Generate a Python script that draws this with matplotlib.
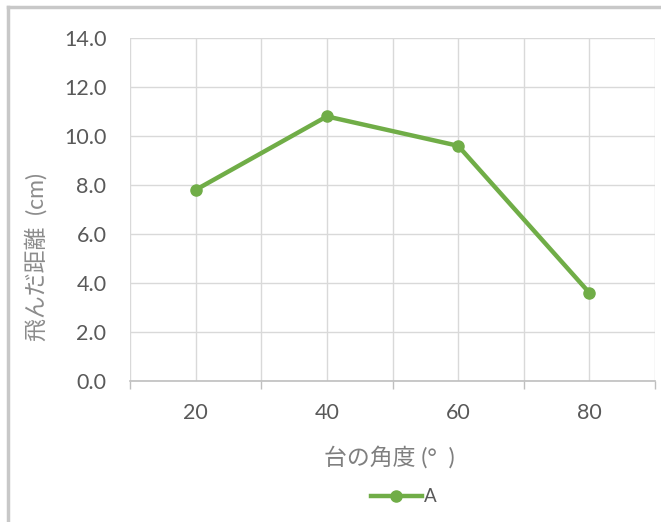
import matplotlib.pyplot as plt
from matplotlib.lines import Line2D

plt.rcParams['font.family'] = ['Lato', 'Noto Sans CJK JP', 'DejaVu Sans']

angles = ["20", "40", "60", "80"]
distance_A = [7.8, 10.8, 9.6, 3.6]

green = "#70AD47"
grid_col = "#D9D9D9"
text_col = "#595959"

fig = plt.figure(figsize=(6.61, 5.22), dpi=100)
ax = fig.add_axes([130 / 661, 141 / 522, 525 / 661, 343 / 522])

x = list(range(len(angles)))
ax.plot(x, distance_A, color=green, lw=3.2, marker="o", ms=8,
        solid_capstyle="round", zorder=3)

ax.set_xlim(-0.5, len(angles) - 0.5)
ax.set_ylim(0, 14)
ax.set_yticks([i * 2 for i in range(8)])
ax.set_yticklabels([f"{i * 2:.1f}" for i in range(8)])
ax.set_xticks(x)
ax.set_xticklabels(angles)
# tick marks sit on the category boundaries
ax.set_xticks([i - 0.5 for i in range(len(angles) + 1)], minor=True)

ax.tick_params(axis="x", which="major", length=0, pad=16, labelsize=15.5,
               labelcolor=text_col)
ax.tick_params(axis="x", which="minor", length=6, color="#BFBFBF", width=1)
ax.tick_params(axis="y", length=0, pad=17, labelsize=15.5, labelcolor=text_col)

ax.grid(True, axis="y", color=grid_col, lw=1)
ax.grid(True, axis="x", which="both", color=grid_col, lw=1)
ax.set_axisbelow(True)

for s in ["top", "right", "left"]:
    ax.spines[s].set_visible(False)
ax.spines["bottom"].set_color("#BFBFBF")
ax.spines["bottom"].set_linewidth(1.2)

fig.text(389 / 661, 1 - 457 / 522, "台の角度 (°  )", ha="center", va="center",
         fontsize=16.5, color="#7F7F7F")
fig.text(36 / 661, 1 - 257 / 522, "飛んだ距離  (cm)", ha="center", va="center",
         rotation=90, fontsize=16.5, color="#8C8C8C")

handle = Line2D([], [], color=green, lw=3.2, marker="o", ms=8)
fig.legend([handle], ["A"], loc="center", bbox_to_anchor=(404 / 661, 1 - 497 / 522),
           frameon=False, fontsize=13.5, handlelength=2.7, handletextpad=0.15,
           labelcolor=text_col)

# outer chart frame
fig.add_artist(Line2D([8 / 661, 8 / 661], [0, 1 - 7 / 522], color="#C8C8C8", lw=2.5,
                      transform=fig.transFigure))
fig.add_artist(Line2D([8 / 661, 1], [1 - 7 / 522, 1 - 7 / 522], color="#C8C8C8", lw=2.5,
                      transform=fig.transFigure))

fig.savefig("out.png", dpi=100)
